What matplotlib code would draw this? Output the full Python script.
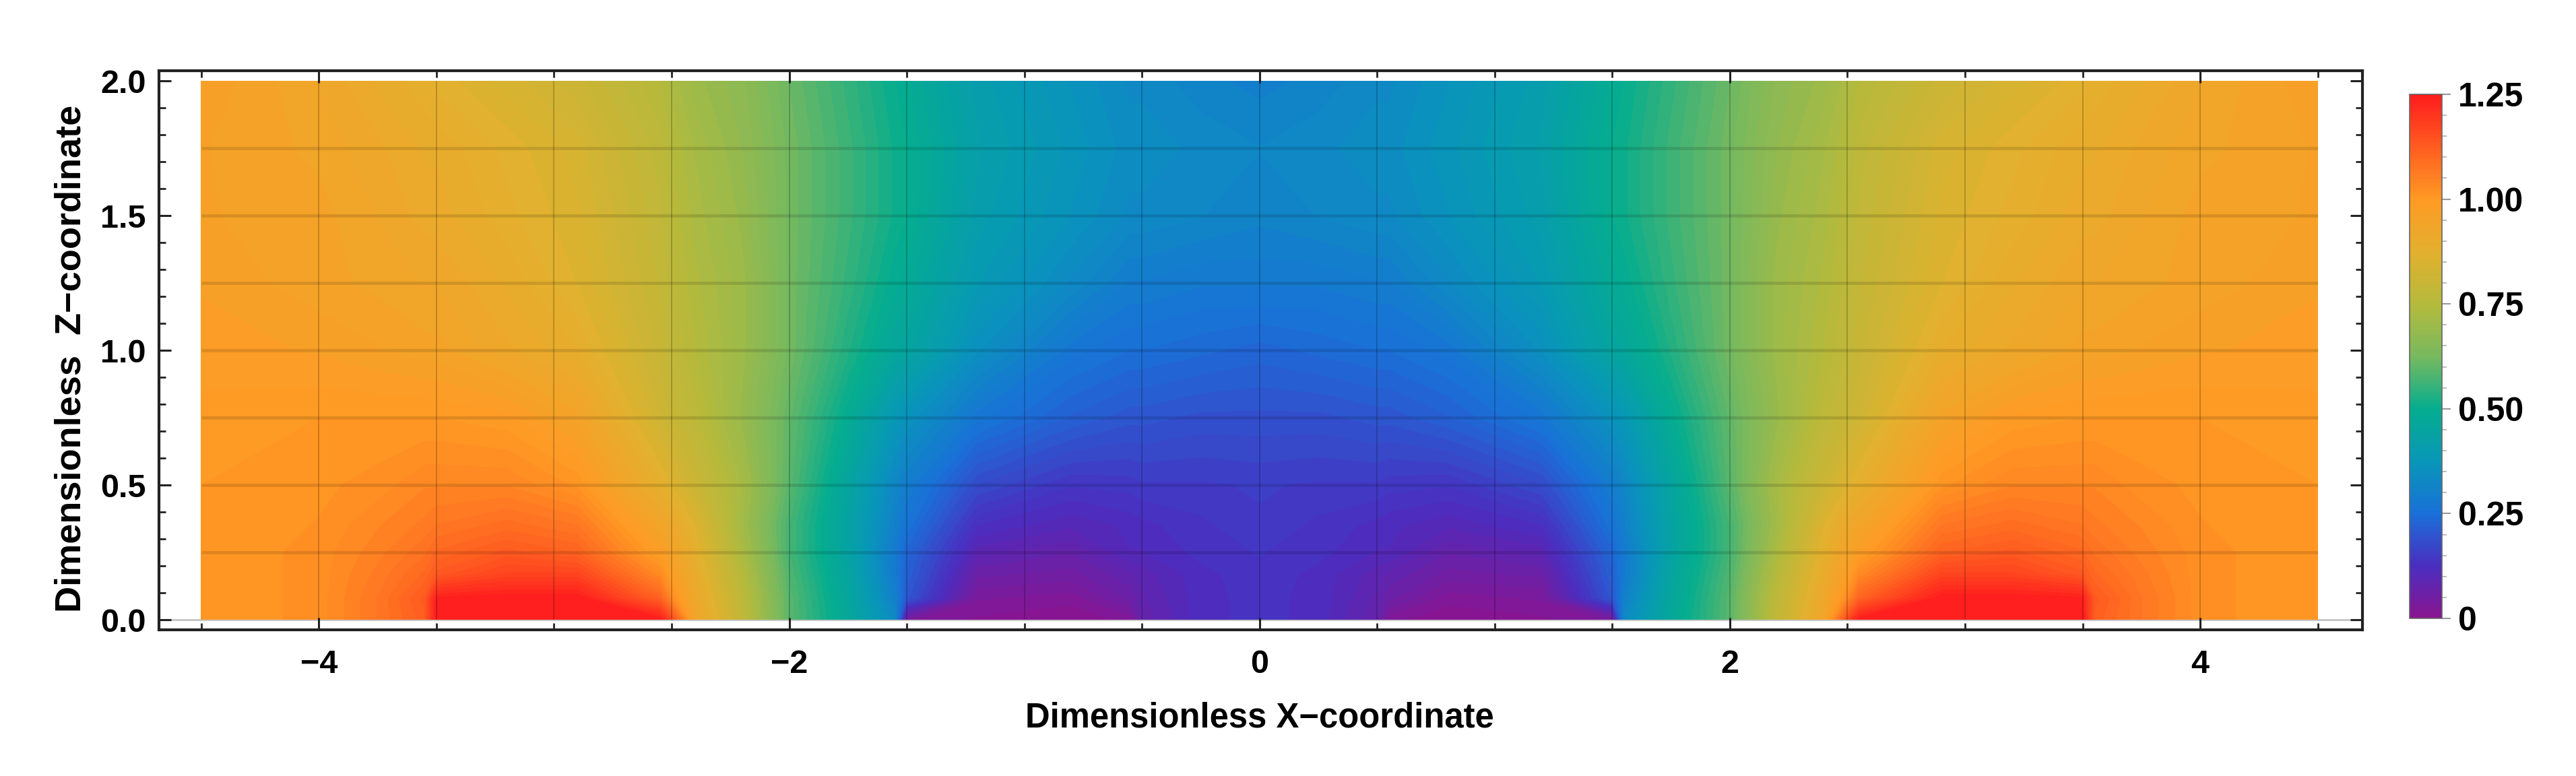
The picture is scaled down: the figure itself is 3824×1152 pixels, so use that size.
import numpy as np
import matplotlib
matplotlib.use('Agg')
import matplotlib.pyplot as plt
from matplotlib.colors import LinearSegmentedColormap, Normalize
from matplotlib.cm import ScalarMappable
from matplotlib.ticker import MultipleLocator, FixedLocator

plt.rcParams['font.family'] = ['Liberation Sans', 'DejaVu Sans']
plt.rcParams['font.weight'] = 'bold'

# sample positions
x_pos = [-4.5, -4.0, -3.75, -3.55, -3.5, -3.2, -2.9, -2.55, -2.5, -2.4, -2.2, -2.0, -1.75, -1.55, -1.5, -1.2, -0.8, -0.55, -0.5, -0.25, 0.0,
         0.25, 0.5, 0.55, 0.8, 1.2, 1.5, 1.55, 1.75, 2.0, 2.2, 2.4, 2.5, 2.55, 2.9, 3.2, 3.5, 3.55, 3.75, 4.0, 4.5]
z_pos = [0.0, 0.08, 0.17, 0.25, 0.35, 0.5, 0.75, 1.0, 1.25, 1.5, 1.75, 2.0]

# field values, one row per z level
row_000 = [1.00, 1.02, 1.07, 1.12, 1.25, 1.25, 1.25, 1.25, 1.16, .94, .78, .59, .47, .33, .03, .01, .00, .02, .07, .12, .13,
           .12, .07, .02, .00, .01, .03, .33, .47, .59, .78, .94, 1.16, 1.25, 1.25, 1.25, 1.25, 1.12, 1.07, 1.02, 1.00]
row_008 = [1.00, 1.02, 1.07, 1.13, 1.24, 1.25, 1.25, 1.11, 1.03, .92, .77, .59, .46, .30, .20, .03, .02, .06, .08, .12, .13,
           .12, .08, .06, .02, .03, .20, .30, .46, .59, .77, .92, 1.03, 1.11, 1.25, 1.25, 1.24, 1.13, 1.07, 1.02, 1.00]
row_017 = [1.00, 1.02, 1.06, 1.10, 1.13, 1.17, 1.17, 1.03, .98, .90, .75, .58, .45, .28, .22, .06, .05, .08, .09, .12, .135,
           .12, .09, .08, .05, .06, .22, .28, .45, .58, .75, .90, .98, 1.03, 1.17, 1.17, 1.13, 1.10, 1.06, 1.02, 1.00]
row_025 = [1.00, 1.02, 1.05, 1.08, 1.10, 1.13, 1.11, .98, .95, .88, .73, .57, .44, .28, .23, .09, .07, .11, .11, .13, .14,
           .13, .11, .11, .07, .09, .23, .28, .44, .57, .73, .88, .95, .98, 1.11, 1.13, 1.10, 1.08, 1.05, 1.02, 1.00]
row_035 = [1.00, 1.015, 1.04, 1.06, 1.07, 1.09, 1.07, .94, .92, .86, .71, .57, .44, .30, .26, .125, .10, .115, .12, .135, .15,
           .135, .12, .115, .10, .125, .26, .30, .44, .57, .71, .86, .92, .94, 1.07, 1.09, 1.07, 1.06, 1.04, 1.015, 1.00]
row_050 = [1.00, 1.01, 1.02, 1.04, 1.04, 1.04, 1.01, .88, .86, .81, .72, .59, .45, .32, .29, .18, .14, .145, .15, .15, .155,
           .15, .15, .145, .14, .18, .29, .32, .45, .59, .72, .81, .86, .88, 1.01, 1.04, 1.04, 1.04, 1.02, 1.01, 1.00]
row_075 = [.99, 1.00, 1.00, 1.00, 1.00, .99, .95, .82, .80, .77, .69, .60, .49, .38, .36, .27, .22, .20, .20, .19, .19,
           .19, .20, .20, .22, .27, .36, .38, .49, .60, .69, .77, .80, .82, .95, .99, 1.00, 1.00, 1.00, 1.00, .99]
row_100 = [.98, .97, .96, .95, .95, .92, .89, .80, .78, .75, .70, .62, .53, .46, .45, .35, .27, .25, .25, .24, .23,
           .24, .25, .25, .27, .35, .45, .46, .53, .62, .70, .75, .78, .80, .89, .92, .95, .95, .96, .97, .98]
row_125 = [.97, .95, .94, .93, .93, .90, .86, .79, .77, .74, .70, .62, .55, .49, .48, .39, .33, .29, .29, .28, .28,
           .28, .29, .29, .33, .39, .48, .49, .55, .62, .70, .74, .77, .79, .86, .90, .93, .93, .94, .95, .97]
row_150 = [.96, .95, .93, .91, .91, .88, .85, .78, .76, .73, .69, .62, .56, .51, .50, .41, .36, .33, .33, .32, .31,
           .32, .33, .33, .36, .41, .50, .51, .56, .62, .69, .73, .76, .78, .85, .88, .91, .91, .93, .95, .96]
row_175 = [.96, .94, .92, .90, .90, .87, .84, .77, .75, .72, .68, .62, .56, .51, .50, .42, .37, .34, .34, .33, .32,
           .33, .34, .34, .37, .42, .50, .51, .56, .62, .68, .72, .75, .77, .84, .87, .90, .90, .92, .94, .96]
row_200 = [.97, .93, .90, .88, .87, .84, .81, .75, .73, .70, .67, .61, .55, .50, .49, .41, .36, .33, .33, .31, .30,
           .31, .33, .33, .36, .41, .49, .50, .55, .61, .67, .70, .73, .75, .81, .84, .87, .88, .90, .93, .97]

x_ticks = [-4, -2, 0, 2, 4]
z_ticks = [0.0, 0.5, 1.0, 1.5, 2.0]
cb_ticks = [0, 0.25, 0.5, 0.75, 1.0, 1.25]
cb_labels = ['0', '0.25', '0.50', '0.75', '1.00', '1.25']

cmap_vals = [0.0, 0.125, 0.25, 0.375, 0.5, 0.625, 0.75, 0.875, 1.0, 1.125, 1.25]
cmap_cols = ['#8a1490', '#4a2ec0', '#1a70d8', '#0897b8', '#05ad8e', '#78b95f', '#b5ba3c', '#e3b02e', '#ff9a24', '#ff5c20', '#ff1c1e']
cmap = LinearSegmentedColormap.from_list('field', [(v / 1.25, c) for v, c in zip(cmap_vals, cmap_cols)], N=512)
norm = Normalize(0, 1.25)

W, H = 3824, 1152
fig = plt.figure(figsize=(W / 100, H / 100), dpi=100)
ax = fig.add_axes([236 / W, 1 - 935 / H, (3507 - 236) / W, (935 - 105) / H])

field = np.array([row_000, row_008, row_017, row_025, row_035, row_050, row_075,
                  row_100, row_125, row_150, row_175, row_200])

ax.axhline(0, color='#c4c4c4', lw=2, zorder=0)
ax.contourf(x_pos, z_pos, field, levels=np.linspace(0, 1.25, 91), cmap=cmap, norm=norm, extend='both', zorder=1)

# mesh lines over the field
ax.vlines(np.arange(-4, 4.01, 0.5), 0, 2, color='k', alpha=0.2, lw=1.4, zorder=2)
ax.hlines(np.arange(0.25, 1.76, 0.25), -4.5, 4.5, color='k', alpha=0.12, lw=3.4, zorder=2)

ax.set_xlim(-4.68, 4.69)
ax.set_ylim(-0.0375, 2.0375)
ax.xaxis.set_major_locator(FixedLocator(x_ticks))
ax.xaxis.set_minor_locator(MultipleLocator(0.5))
ax.yaxis.set_major_locator(FixedLocator(z_ticks))
ax.yaxis.set_minor_locator(MultipleLocator(0.1))
ax.set_yticklabels(['0.0', '0.5', '1.0', '1.5', '2.0'])
ax.tick_params(which='major', direction='in', top=True, right=True, length=13, width=2.2, color='#222222',
               labelsize=35, pad=21)
ax.tick_params(which='minor', direction='in', top=True, right=True, length=7, width=2, color='#222222')
ax.tick_params(axis='y', which='major', pad=14)
for s in ax.spines.values():
    s.set_linewidth(3)
    s.set_color('#222222')

fig.text(1870 / W, 1 - 1066 / H, 'Dimensionless X\u2212coordinate', ha='center', va='center', fontsize=36.5)
fig.text(106 / W, 1 - 532 / H, 'Dimensionless  Z\u2212coordinate', ha='center', va='center', rotation=90, fontsize=39)

# colour bar
cax = fig.add_axes([3577 / W, 1 - 918 / H, 48 / W, (918 - 140) / H])
cb = fig.colorbar(ScalarMappable(norm=norm, cmap=cmap), cax=cax, ticks=cb_ticks)
cb.set_ticklabels(cb_labels)
cb.ax.yaxis.set_minor_locator(MultipleLocator(0.05))
cb.ax.tick_params(which='major', length=9, width=1.5, color='#9a9a9a', labelsize=36, pad=8)
cb.ax.tick_params(which='minor', length=5, width=1.2, color='#b0b0b0')
cb.outline.set_edgecolor('#666666')
cb.outline.set_linewidth(1.2)

fig.savefig('out.png', dpi=100)
